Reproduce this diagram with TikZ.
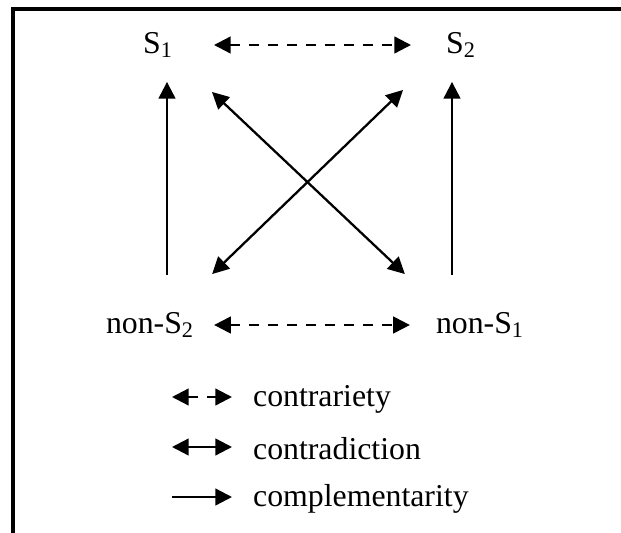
\documentclass[tikz,border=0pt]{standalone}
\usepackage{fontspec}
\setmainfont{Liberation Serif}
\usetikzlibrary{arrows.meta}

\begin{document}
\begin{tikzpicture}[x=0.02cm,y=-0.02cm,line width=1.3pt,
  >={Triangle[length=9.5pt,width=9.5pt]},
  term/.style={inner sep=0pt,font=\fontsize{18.1}{22}\selectfont},
  contrary/.style={<->,dash pattern=on 5.7pt off 5.1pt},
  contra/.style={<->},
  compl/.style={->}]
  \useasboundingbox (0,0) rectangle (621,533);

  % frame (open at right and bottom)
  \draw[line width=1.8pt] (621,9) -- (13,9) -- (13,533);

  % the four terms
  \node[term] (S1)  at (158,45)  {S\textsubscript{1}};
  \node[term] (S2)  at (461,45)  {S\textsubscript{2}};
  \node[term] (nS2) at (150,325) {non-S\textsubscript{2}};
  \node[term] (nS1) at (480,325) {non-S\textsubscript{1}};

  % contrariety
  \draw[contrary,shorten <=0.8cm,shorten >=0.68cm] (S1) -- (S2);
  \draw[contrary,shorten <=0.38cm,shorten >=0.5cm] (nS2) -- (nS1);

  % complementarity
  \draw[compl,shorten <=0.72cm,shorten >=0.46cm]
    ([shift={(17,0)}]nS2.north) -- ([shift={(9,0)}]S1.south);
  \draw[compl,shorten <=0.72cm,shorten >=0.46cm]
    ([shift={(-28,0)}]nS1.north) -- ([shift={(-9,0)}]S2.south);

  % contradiction
  \draw[contra] ([shift={(38,33)}]S1.south east) -- ([shift={(-30,-37)}]nS1.north west);
  \draw[contra] ([shift={(17,-37)}]nS2.north east) -- ([shift={(-42,31)}]S2.south west);

  % legend
  \node[term,anchor=west] (L1) at (252,399) {contrariety};
  \node[term,anchor=west] (L2) at (252,449) {contradiction};
  \node[term,anchor=west] (L3) at (252,499) {complementarity};
  \coordinate (k1) at (172,397);
  \coordinate (k2) at (172,447);
  \coordinate (k3) at (172,497);
  \draw[contrary,shorten >=0.4cm] (k1) -- (k1 -| L1.west);
  \draw[contra,shorten >=0.4cm] (k2) -- (k2 -| L2.west);
  \draw[compl,shorten >=0.4cm] (k3) -- (k3 -| L3.west);

\end{tikzpicture}
\end{document}
